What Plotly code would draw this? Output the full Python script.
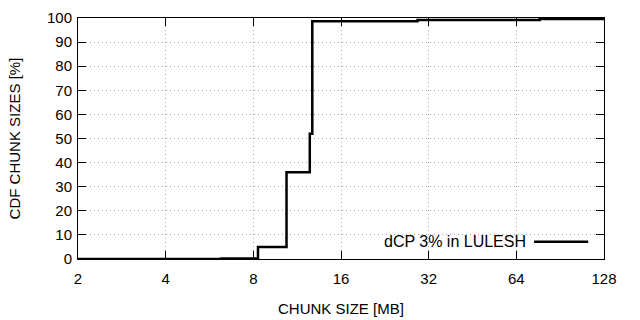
import plotly.graph_objects as go
import math

# Data
chunk_size_mb = [2, 6.2, 8.3, 10.4, 12.5, 12.75, 29.3, 77, 128]
cdf_percent = [0, 0.2, 5, 36, 52, 98.6, 99.2, 99.6, 99.7]
series_name = "dCP 3% in LULESH"
x_title = "CHUNK SIZE [MB]"
y_title = "CDF CHUNK SIZES [%]"
x_ticks = [2, 4, 8, 16, 32, 64, 128]
y_ticks = list(range(0, 101, 10))

FONT = "Liberation Sans, Arial, sans-serif"
FS = 15

fig = go.Figure()
fig.add_trace(go.Scatter(
    x=chunk_size_mb, y=cdf_percent, mode="lines",
    line=dict(color="black", width=2.5, shape="hv"),
    name=series_name, showlegend=False,
))

axis_common = dict(
    showline=True, linecolor="black", linewidth=1, mirror="ticks",
    ticks="inside", ticklen=8, tickcolor="black", tickwidth=1,
    showgrid=True, gridcolor="#a8a8a8", griddash="1px,3px", gridwidth=1,
    zeroline=False, automargin=False,
    tickfont=dict(family=FONT, size=FS, color="black"),
)

fig.update_xaxes(
    type="log", range=[math.log10(2), math.log10(128)],
    tickvals=x_ticks, ticktext=[str(v) for v in x_ticks],
    ticklabelstandoff=6,
    **axis_common,
)
fig.update_yaxes(
    range=[0, 100], tickvals=y_ticks,
    ticklabelstandoff=2,
    **axis_common,
)

title_font = dict(family=FONT, size=FS, color="black")
fig.add_annotation(xref="paper", yref="paper", x=0.5, y=-0.205, yanchor="middle",
                   text=x_title, showarrow=False, font=title_font)
fig.add_annotation(xref="paper", yref="paper", x=-0.12, y=0.5, xanchor="center", textangle=-90,
                   text=y_title, showarrow=False, font=title_font)

# gnuplot-style key: text then sample line on the right
fig.add_annotation(
    xref="paper", yref="paper", x=0.855, y=0.072, xanchor="right", yanchor="middle",
    text=series_name, showarrow=False, font=dict(family=FONT, size=16, color="black"),
)
fig.add_shape(type="line", xref="paper", yref="paper", x0=0.867, x1=0.97, y0=0.072, y1=0.072,
              line=dict(color="black", width=2.5))

fig.update_layout(
    width=640, height=320,
    margin=dict(l=78, r=36, t=18, b=61),
    plot_bgcolor="white", paper_bgcolor="white",
)

fig.write_html("out.html")
